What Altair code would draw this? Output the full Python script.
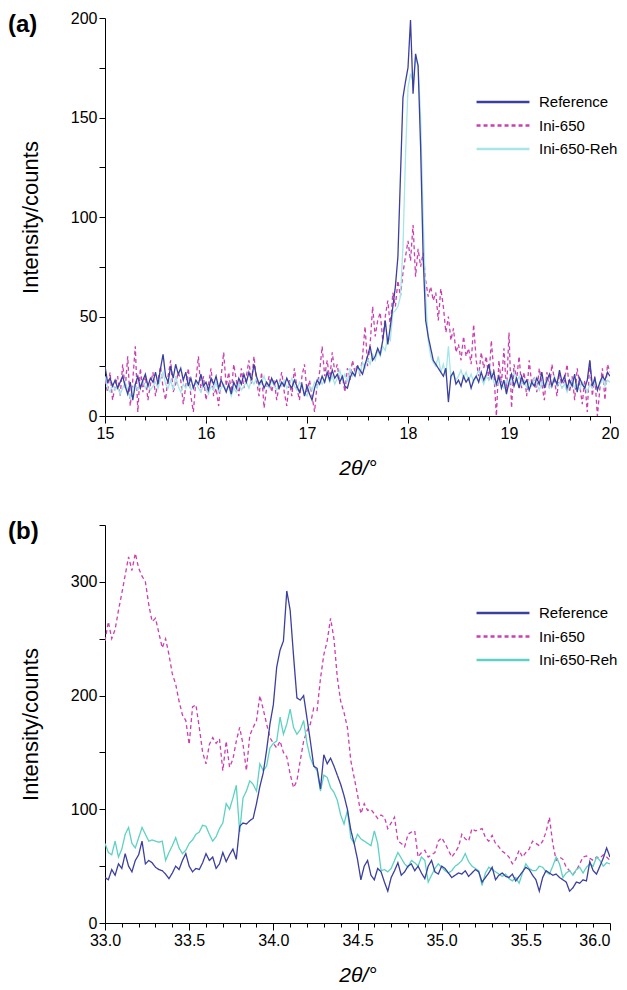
import altair as alt
import pandas as pd

SERIES = ["Reference", "Ini-650", "Ini-650-Reh"]
PANEL_LABELS = ["(a)", "(b)"]

# ---- panel (a): 2theta 15..20, step 0.025 ----
A_X0, A_STEP = 15.0, 0.025
A_REF = [
    25, 17, 19, 15, 18, 14, 17, 20, 15, 11,
    17, 8, 16, 20, 14, 18, 21, 15, 19, 17,
    22, 16, 24, 31, 20, 17, 25, 19, 26, 21,
    24, 18, 22, 15, 19, 14, 18, 16, 21, 15,
    17, 13, 19, 16, 20, 14, 18, 15, 12, 16,
    11, 17, 14, 19, 16, 21, 17, 22, 18, 26,
    20, 16, 18, 14, 17, 15, 19, 16, 18, 14,
    17, 15, 19, 16, 14, 18, 15, 12, 16, 10,
    15, 11, 8, 14, 18, 16, 20, 17, 22, 18,
    23, 19, 21, 17, 20, 15, 14, 19, 22, 20,
    25, 23, 21, 26, 30, 35, 28, 30, 34, 31,
    38, 48, 36, 45, 55, 65, 80, 120, 160, 168,
    175, 199, 162, 182, 176, 135, 80, 48, 40, 34,
    28, 26, 24, 22, 20, 24, 7, 20, 22, 16,
    18, 15, 20, 17, 19, 14, 18, 20, 17, 22,
    18, 21, 26, 19, 22, 16, 20, 14, 18, 11,
    17, 21, 15, 19, 14, 20, 16, 18, 13, 17,
    15, 19, 16, 22, 14, 18, 21, 15, 19, 16,
    23, 17, 20, 14, 18, 15, 21, 12, 19, 16,
    14, 18, 28, 15, 19, 13, 17, 20, 18, 22,
    20,
]
A_INI = [
    18, 12, 22, 8, 15, 20, 10, 26, 14, 30,
    5, 18, 35, 2, 24, 12, 20, 8, 16, 22,
    10, 18, 25, 14, 8, 20, 28, 12, 16, 22,
    18, 6, 15, 24, 10, 2, 18, 30, 12, 20,
    8, 16, 24, 10, 14, 5, 20, 32, 15, 22,
    12, 26, 18, 10, 24, 14, 20, 28, 16, 30,
    18, 10, 22, 4, 14, 20, 12, 18, 8, 16,
    22, 12, 5, 18, 10, 24, 14, 8, 20, 26,
    12, 18, 10, 2, 16, 22, 35, 20, 28, 18,
    32, 22, 26, 16, 20, 12, 24, 18, 28, 22,
    26, 20, 30, 45, 25, 36, 55, 40, 48, 52,
    38, 50, 58, 45, 62, 55, 68, 60, 72, 80,
    88, 78, 96, 70, 84, 75, 82, 68, 60, 65,
    58, 62, 48, 64, 55, 42, 50, 38, 44, 32,
    36, 28, 40, 30, 34, 26, 46, 28, 20, 32,
    24, 30, 18, 38, 22, 0, 28, 16, 34, 12,
    42, 4, 26, 18, 30, 14, 22, 10, 28, 16,
    20, 12, 24, 16, 8, 22, 14, 26, 18, 10,
    22, 14, 18, 26, 12, 20, 8, 24, 16, 6,
    18, 2, 28, 10, 20, 0, 14, 24, 8, 26,
    22,
]
A_REH = [
    20, 14, 12, 16, 13, 15, 11, 14, 17, 13,
    9, 14, 16, 13, 15, 18, 14, 16, 13, 15,
    17, 14, 19, 22, 16, 14, 18, 13, 20, 15,
    12, 16, 14, 18, 13, 15, 17, 14, 12, 16,
    14, 11, 15, 13, 17, 12, 14, 16, 13, 15,
    10, 14, 12, 16, 13, 15, 17, 14, 18, 16,
    19, 15, 17, 20, 16, 14, 18, 15, 13, 17,
    15, 18, 14, 16, 19, 15, 13, 17, 14, 12,
    10, 15, 13, 17, 14, 19, 16, 18, 21, 17,
    20, 16, 19, 23, 18, 21, 17, 24, 20, 22,
    25, 21, 27, 24, 29, 26, 31, 28, 33, 30,
    35, 33, 40, 38, 52, 53, 55, 60, 85, 130,
    165, 172, 168, 180, 176, 150, 100, 60, 38, 30,
    27, 25, 30, 22, 26, 20, 35, 19, 22, 18,
    20, 23, 19, 22, 18, 21, 17, 20, 23, 19,
    16, 20, 18, 22, 17, 15, 19, 16, 14, 18,
    15, 19, 22, 17, 20, 16, 18, 14, 17, 15,
    19, 16, 13, 17, 15, 18, 14, 16, 20, 15,
    17, 14, 16, 12, 15, 18, 14, 16, 13, 17,
    15, 12, 16, 14, 18, 13, 16, 19, 15, 18,
    17,
]

# ---- panel (b): 2theta 33..36, step 0.02 ----
B_X0, B_STEP = 33.0, 0.02
B_REF = [
    40, 38, 47, 42, 52, 48, 61, 50, 45, 55,
    60, 72, 52, 55, 53, 49, 47, 46, 43, 39,
    44, 50, 47, 55, 61, 50, 45, 48, 47, 53,
    61, 55, 58, 48, 52, 62, 54, 60, 65, 56,
    85, 88, 87, 90, 92, 105, 120, 132, 152, 175,
    192, 225, 240, 248, 292, 275, 235, 198, 196, 200,
    180, 160, 138, 136, 118, 148, 140, 145, 138, 130,
    122, 112, 100, 82, 70, 56, 38, 50, 55, 42,
    38, 48, 45, 36, 28, 40, 46, 53, 42, 45,
    50, 52, 46, 50, 44, 39, 50, 55, 45, 43,
    50, 48, 44, 40, 42, 44, 43, 46, 41, 44,
    47, 45, 36, 40, 44, 49, 38, 42, 44, 41,
    40, 43, 37, 41, 45, 49, 47, 42, 38, 28,
    40, 46, 44, 42, 43, 40, 38, 36, 28, 31,
    36, 35, 38, 37, 54, 46, 43, 50, 57, 66,
    58,
]
B_INI = [
    248, 265, 250, 258, 275, 290, 306, 322, 310, 325,
    312, 305, 300, 280, 265, 268, 255, 242, 250, 236,
    219, 210, 195, 183, 178, 157, 190, 192, 172, 150,
    140, 157, 163, 158, 162, 134, 160, 137, 144, 160,
    172, 157, 134, 165, 172, 178, 200, 188, 175, 163,
    158, 154, 160, 150, 146, 131, 119, 125, 143, 160,
    169, 175, 189, 187, 215, 236, 248, 268, 250, 216,
    195, 185, 172, 143, 128, 113, 96, 105, 99, 100,
    96, 92, 95, 93, 83, 88, 93, 72, 70, 67,
    78, 80, 81, 58, 62, 64, 58, 60, 62, 72,
    75, 70, 64, 58, 62, 67, 78, 74, 72, 83,
    81, 82, 83, 75, 72, 77, 70, 67, 63, 61,
    58, 52, 56, 64, 58, 62, 65, 72, 70, 68,
    72, 80, 93, 70, 55, 58, 56, 49, 46, 43,
    46, 52, 58, 59, 57, 55, 58, 57, 60, 58,
    55,
]
B_REH = [
    70, 62, 60, 72, 58, 65, 78, 84, 70, 66,
    75, 84, 78, 72, 73, 72, 71, 72, 55, 62,
    68, 75, 66, 61, 64, 70, 73, 78, 80, 86,
    85, 78, 72, 76, 83, 88, 105, 100, 110, 121,
    80, 110, 116, 125, 122, 116, 140, 134, 138, 154,
    158, 160, 181, 166, 175, 188, 172, 166, 170, 178,
    158, 145, 138, 134, 116, 130, 128, 119, 115, 108,
    95, 87, 99, 75, 70, 78, 74, 72, 70, 68,
    81, 70, 46, 47, 45, 48, 55, 62, 57, 52,
    49, 55, 53, 50, 58, 55, 36, 42, 48, 52,
    49, 46, 44, 46, 50, 52, 55, 61, 54, 50,
    48, 46, 33, 44, 49, 47, 45, 43, 41, 43,
    39, 37, 40, 35, 44, 52, 48, 46, 46, 50,
    49, 45, 43, 50, 58, 52, 40, 44, 46, 42,
    47, 49, 44, 49, 52, 50, 58, 55, 50, 53,
    52,
]

A_XTICKS = [round(15 + 0.2 * i, 2) for i in range(26)]
A_YTICKS = [0, 25, 50, 75, 100, 125, 150, 175, 200]
B_XTICKS = [round(33 + 0.1 * i, 2) for i in range(31)]
B_YTICKS = [0, 50, 100, 150, 200, 250, 300, 350]

A_COLORS = ["#3b3f9e", "#cc3fae", "#a6e6e6"]
B_COLORS = ["#3b3f9e", "#cc3fae", "#5ed2c2"]
DASHES = [[1, 0], [4, 3], [1, 0]]

FONT = "Liberation Sans"


def long_df(x0, step, cols):
    rows = []
    for name, vals in zip(SERIES, cols):
        for i, v in enumerate(vals):
            rows.append({"x": round(x0 + i * step, 4), "y": v, "series": name})
    return pd.DataFrame(rows)


def panel(df, label, xdom, xticks, xlab_expr, ydom, yticks, ylab_expr, colors, leg_y, right_last):
    leg = alt.Legend(
        orient="none", legendX=370, legendY=leg_y, title=None,
        symbolType="stroke", symbolSize=2800, symbolStrokeWidth=2.5,
        labelFont=FONT, labelFontSize=15, labelColor="black",
        labelOffset=8, clipHeight=16, rowPadding=7.5,
    )
    color = alt.Color("series:N", scale=alt.Scale(domain=SERIES, range=colors), legend=leg)
    dash = alt.StrokeDash("series:N", scale=alt.Scale(domain=SERIES, range=DASHES), legend=leg)
    last = "right" if right_last else "center"
    x = alt.X(
        "x:Q",
        scale=alt.Scale(domain=xdom, nice=False, zero=False),
        axis=alt.Axis(
            values=xticks, labelExpr=xlab_expr, title="2θ/°", labelFlush=False,
            labelAlign={"condition": [
                {"test": f"datum.value >= {xdom[1] - 0.001}", "value": last},
                {"test": f"datum.value <= {xdom[0] + 0.001}", "value": "center"},
            ], "value": "center"},
            titleFontStyle="italic", titlePadding=16, titleFontSize=21,
            tickSize={"condition": {"test": xlab_expr.split(" ?")[0], "value": 7}, "value": 4},
        ),
    )
    y = alt.Y(
        "y:Q",
        scale=alt.Scale(domain=ydom, nice=False, zero=False),
        axis=alt.Axis(values=yticks, labelExpr=ylab_expr, title="Intensity/counts",
                      tickSize=6, titlePadding=28, titleFontSize=22),
    )
    base = alt.Chart(df).mark_line(strokeWidth=1.3, clip=True).encode(
        x=x, y=y, color=color, strokeDash=dash
    )
    layers = [base.transform_filter(alt.datum.series == s)
              for s in ["Ini-650", "Ini-650-Reh", "Reference"]]
    txt = alt.Chart(pd.DataFrame({"t": [label]})).mark_text(
        font=FONT, fontSize=24, fontWeight="bold", align="left", baseline="middle", color="black"
    ).encode(text="t:N", x=alt.value(-97), y=alt.value(7))
    return alt.layer(*layers, txt).properties(width=505, height=398)


df_a = long_df(A_X0, A_STEP, [A_REF, A_INI, A_REH])
df_b = long_df(B_X0, B_STEP, [B_REF, B_INI, B_REH])

pa = panel(
    df_a, PANEL_LABELS[0], [15, 20], A_XTICKS,
    "abs(datum.value - round(datum.value)) < 0.001 ? format(datum.value, 'd') : ''",
    [0, 200], A_YTICKS, "datum.value % 50 == 0 ? datum.label : ''",
    A_COLORS, 76, False,
)
pb = panel(
    df_b, PANEL_LABELS[1], [33, 36], B_XTICKS,
    "abs(datum.value * 2 - round(datum.value * 2)) < 0.001 ? format(datum.value, '.1f') : ''",
    [0, 350], B_YTICKS, "datum.value % 100 == 0 ? datum.label : ''",
    B_COLORS, 80, True,
)

chart = alt.vconcat(pa, pb, spacing=42).resolve_scale(color="independent", strokeDash="independent").properties(
    padding={"top": 2, "left": 0, "right": 0, "bottom": 0}
).configure_view(stroke=None).configure_axis(
    grid=False, domainColor="black", tickColor="black", labelColor="black",
    titleColor="black", labelFont=FONT, titleFont=FONT, labelFontSize=16,
    titleFontSize=21, titleFontWeight="normal", domainWidth=1, tickWidth=1,
)

chart.save("out.html", embed_options={"renderer": "svg", "actions": False})
